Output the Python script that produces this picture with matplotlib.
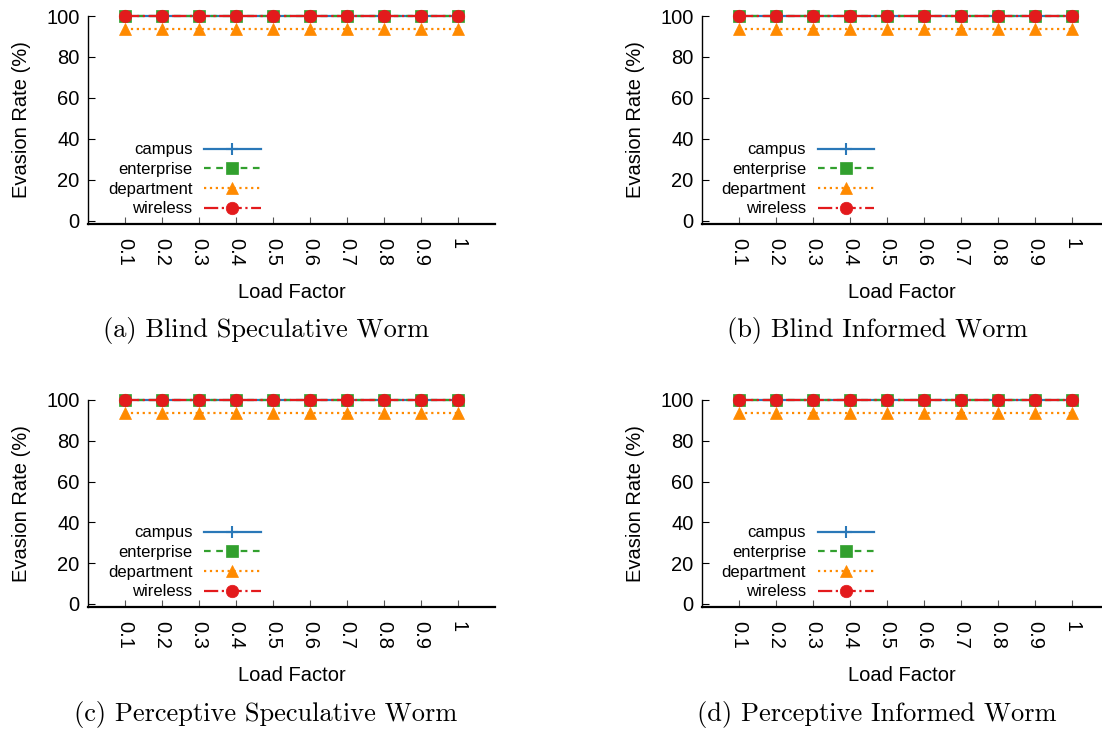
import numpy as np
import matplotlib.pyplot as plt

load_factor = [0.1, 0.2, 0.3, 0.4, 0.5, 0.6, 0.7, 0.8, 0.9, 1.0]
load_labels = ["0.1", "0.2", "0.3", "0.4", "0.5", "0.6", "0.7", "0.8", "0.9", "1"]

# evasion rate (%) per panel
campus = [100, 100, 100, 100, 100, 100, 100, 100, 100, 100]
enterprise = [100, 100, 100, 100, 100, 100, 100, 100, 100, 100]
department = [93.8, 93.8, 93.8, 93.8, 93.8, 93.8, 93.8, 93.8, 93.8, 93.8]
wireless = [100, 100, 100, 100, 100, 100, 100, 100, 100, 100]

captions = [
    "(a) Blind Speculative Worm",
    "(b) Blind Informed Worm",
    "(c) Perceptive Speculative Worm",
    "(d) Perceptive Informed Worm",
]

W, H = 1102, 731
fig = plt.figure(figsize=(W / 100, H / 100), dpi=100)
plt.rcParams["font.family"] = ["Liberation Sans", "DejaVu Sans"]

# panel boxes in pixels: left, right, top, bottom
boxes = [
    (88, 495, 16, 224),
    (702, 1102, 16, 224),
    (88, 495, 400, 607),
    (702, 1102, 400, 607),
]
# caption centres in pixels
cap_pos = [(266, 331), (877, 331), (266, 715), (877, 715)]

series = [
    ("campus", campus, "#2a78b8", "-", "+", 9),
    ("enterprise", enterprise, "#32a02e", (0, (3, 2.5)), "s", 8),
    ("department", department, "#ff8a00", ":", "^", 9),
    ("wireless", wireless, "#e31a1c", "-.", "o", 9),
]

for i, (l, r, t, b) in enumerate(boxes):
    ax = fig.add_axes([l / W, 1 - b / H, (r - l) / W, (b - t) / H])
    for name, vals, col, ls, mk, ms in series:
        ax.plot(load_factor, vals, color=col, linestyle=ls, linewidth=1.6,
                marker=mk, markersize=ms, markeredgewidth=1.5 if mk == "+" else 0.5,
                label=name, clip_on=False)
    ax.set_xlim(0, 1.1 * (r - l) / 407)
    ax.set_ylim(-1.5, 100)
    ax.set_xticks(load_factor)
    ax.set_xticklabels(load_labels, rotation=-90, fontsize=14.5)
    ax.set_yticks([0, 20, 40, 60, 80, 100])
    ax.tick_params(axis="y", labelsize=14.5, direction="in", length=5, pad=6)
    ax.tick_params(axis="x", direction="in", length=5, pad=10, color="#555555")
    ax.spines["top"].set_visible(False)
    ax.spines["right"].set_visible(False)
    ax.spines["left"].set_linewidth(1.0)
    ax.spines["bottom"].set_linewidth(1.6)
    ax.set_xlabel("Load Factor", fontsize=14.5, labelpad=12)
    ax.set_ylabel("Evasion Rate (%)", fontsize=14.5, labelpad=11)
    ax.legend(loc="lower left", bbox_to_anchor=(0.02, -0.02), frameon=False,
              markerfirst=False, fontsize=12, handlelength=3.4,
              labelspacing=0.28, borderaxespad=0.3, handletextpad=0.7)
    cx, cy = cap_pos[i]
    fig.text(cx / W, 1 - cy / H, captions[i], ha="center", va="center",
             fontsize=19, fontfamily="cmr10")

fig.savefig("out.png", dpi=100)
